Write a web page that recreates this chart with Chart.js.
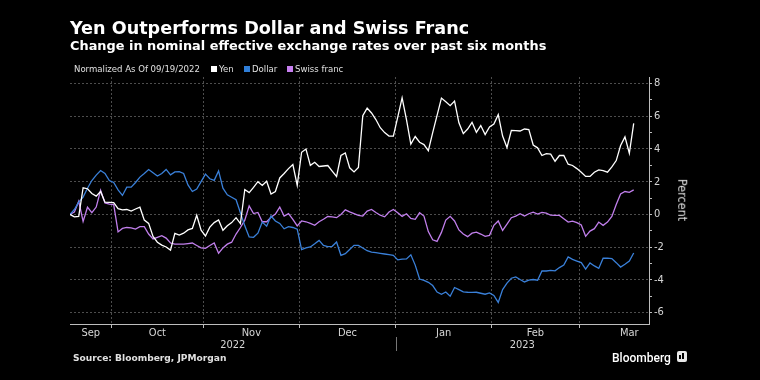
<!DOCTYPE html>
<html>
<head>
<meta charset="utf-8">
<script src="https://cdn.jsdelivr.net/npm/chart.js@4.4.1/dist/chart.umd.min.js"></script>
<style>
  html, body { margin: 0; padding: 0; background: #000; }
  #wrap { position: relative; width: 760px; height: 380px; background: #000; overflow: hidden;
          font-family: "DejaVu Sans", sans-serif; color: #fff; }
  #chart { position: absolute; left: 0; top: 0; }
  .abs { position: absolute; white-space: nowrap; line-height: 1; }
  .title { left: 70px; top: 20px; font-size: 17.6px; font-weight: bold; }
  .subtitle { left: 70px; top: 40px; font-size: 12.9px; font-weight: bold; }
  .leg { top: 63.5px; font-family: "DejaVu Sans Condensed", "Liberation Sans Narrow", "DejaVu Sans", sans-serif;
         font-size: 9.5px; color: #e0e0e0; }
  .sw { position: absolute; top: 66px; width: 6px; height: 6px; }
  .percent { left: 682px; top: 200px; transform: translate(-50%, -50%) rotate(90deg);
             font-family: "DejaVu Sans Condensed", "Liberation Sans Narrow", "DejaVu Sans", sans-serif;
             font-size: 12.5px; color: #e0e0e0; }
  .source { left: 73px; top: 354px; font-size: 9.1px; font-weight: bold; color: #e0e0e0; }
  .logo { left: 612px; top: 351.5px; font-family: Roboto, "DejaVu Sans", sans-serif; font-size: 12px; font-weight: 500; }
  .icon { position: absolute; left: 677px; top: 351px; width: 10px; height: 11px; background: #e8e8e8; border-radius: 2px; }
  .icon i { position: absolute; bottom: 3px; width: 2px; background: #000; }
</style>
</head>
<body>
<div id="wrap">
  <canvas id="chart" width="760" height="380"></canvas>
  <div class="abs title">Yen Outperforms Dollar and Swiss Franc</div>
  <div class="abs subtitle">Change in nominal effective exchange rates over past six months</div>
  <div class="abs leg" style="left:74px">Normalized As Of 09/19/2022</div>
  <span class="sw" style="left:211px;background:#ffffff"></span>
  <div class="abs leg" style="left:219px">Yen</div>
  <span class="sw" style="left:244px;background:#2f7ed8"></span>
  <div class="abs leg" style="left:252px">Dollar</div>
  <span class="sw" style="left:287px;background:#c77ff0"></span>
  <div class="abs leg" style="left:295px">Swiss franc</div>
  <div class="abs percent">Percent</div>
  <div class="abs source">Source: Bloomberg, JPMorgan</div>
  <div class="abs logo">Bloomberg</div>
  <span class="icon"><i style="left:2px;height:4px"></i><i style="left:5px;height:6px"></i></span>
</div>
<script>
// trading days since 09/19/2022 (x = day number)
const yen = [
  0.0, -0.15, -0.12, 1.63, 1.57, 1.28, 1.12, 1.4, 0.75, 0.74,
  0.72, 0.35, 0.28, 0.3, 0.2, 0.33, 0.44, -0.35, -0.55, -1.35,
  -1.7, -1.88, -1.99, -2.18, -1.16, -1.26, -1.15, -0.95, -0.86, -0.05,
  -0.96, -1.32, -0.78, -0.5, -0.34, -0.97, -0.7, -0.5, -0.2, -0.56,
  1.52, 1.33, 1.65, 2.0, 1.77, 2.03, 1.25, 1.4, 2.23, 2.5,
  2.8, 3.05, 1.77, 3.8, 4.0, 3.0, 3.19, 2.93, 2.96, 2.99,
  2.65, 2.32, 3.6, 3.76, 2.85, 2.6, 2.87, 6.04, 6.5, 6.2,
  5.8, 5.3, 5.0, 4.79, 4.79, 5.95, 7.13, 5.8, 4.3, 4.76,
  4.41, 4.27, 3.9, 5.0, 6.05, 7.11, 6.88, 6.65, 6.93, 5.6,
  4.94, 5.22, 5.63, 5.02, 5.43, 4.88, 5.35, 5.53, 6.1, 4.79,
  4.09, 5.14, 5.12, 5.1, 5.22, 5.19, 4.24, 4.07, 3.6, 3.72,
  3.68, 3.25, 3.6, 3.6, 3.07, 2.99, 2.8, 2.58, 2.32, 2.32,
  2.58, 2.72, 2.68, 2.58, 2.9, 3.29, 4.21, 4.74, 3.74, 5.57
];
const dollar = [
  0.0, 0.3, 0.75, 1.06, 1.6, 2.07, 2.4, 2.68, 2.5, 2.07,
  1.95, 1.5, 1.16, 1.67, 1.67, 1.95, 2.28, 2.5, 2.74, 2.55,
  2.35, 2.5, 2.75, 2.42, 2.6, 2.62, 2.5, 1.8, 1.4, 1.55,
  2.0, 2.46, 2.18, 2.08, 2.66, 1.6, 1.2, 1.05, 0.9, 0.1,
  -0.7, -1.38, -1.4, -1.15, -0.47, -0.72, -0.1, -0.4, -0.55, -0.88,
  -0.75, -0.8, -0.9, -2.15, -2.05, -1.99, -1.8, -1.59, -1.9, -1.97,
  -1.95, -1.69, -2.5, -2.4, -2.15, -1.89, -1.89, -2.05, -2.22, -2.3,
  -2.34, -2.38, -2.42, -2.46, -2.5, -2.78, -2.74, -2.72, -2.47, -3.1,
  -3.95, -4.03, -4.15, -4.35, -4.75, -4.88, -4.74, -5.0, -4.47, -4.6,
  -4.74, -4.76, -4.77, -4.76, -4.82, -4.88, -4.8, -4.95, -5.38, -4.6,
  -4.2, -3.9, -3.82, -3.98, -4.13, -4.02, -3.98, -4.02, -3.46, -3.46,
  -3.42, -3.45, -3.25, -3.1, -2.6, -2.75, -2.85, -2.95, -3.35, -2.97,
  -3.15, -3.3, -2.68, -2.67, -2.7, -2.95, -3.22, -3.05, -2.85, -2.36
];
const swissFranc = [
  0.0, 0.14, 0.8, -0.43, 0.44, 0.1, 0.45, 1.47, 0.7, 0.63,
  0.6, -1.07, -0.86, -0.8, -0.82, -0.9, -0.75, -0.75, -1.2, -1.5,
  -1.4, -1.3, -1.45, -1.75, -1.82, -1.82, -1.82, -1.78, -1.75, -1.9,
  -2.05, -2.07, -1.9, -1.75, -2.37, -2.05, -1.82, -1.7, -1.2, -0.8,
  -0.35, 0.52, 0.05, 0.12, -0.45, -0.45, -0.18, 0.02, 0.45, -0.1,
  0.05, -0.3, -0.7, -0.4, -0.45, -0.55, -0.67, -0.45, -0.3, -0.13,
  -0.15, -0.2, 0.0, 0.28, 0.15, 0.05, -0.06, -0.1, 0.2, 0.3,
  0.12, -0.05, -0.15, 0.15, 0.3, 0.1, -0.12, 0.04, -0.25, -0.3,
  0.1, -0.1, -1.05, -1.55, -1.65, -1.1, -0.35, -0.12, -0.4, -0.95,
  -1.2, -1.36, -1.15, -1.08, -1.2, -1.34, -1.28, -0.67, -0.4, -0.98,
  -0.6, -0.2, -0.1, 0.04, -0.1, 0.04, 0.14, 0.02, 0.12, 0.08,
  -0.05, -0.06, -0.06, -0.26, -0.47, -0.41, -0.5, -0.65, -1.34, -1.02,
  -0.87, -0.47, -0.67, -0.47, -0.12, 0.6, 1.25, 1.4, 1.35, 1.5
];

// axis labels
const monthLabels = ['Sep', 'Oct', 'Nov', 'Dec', 'Jan', 'Feb', 'Mar'];
const monthStarts = [-12.5, 9.5, 30.5, 52.5, 74.5, 96.5, 116.5, 139.5]; // trading day where each month begins
const yearLabels = ['2022', '2023'];
const yearStarts = [0, 74.5];
const yTicks = [-6, -5, -4, -3, -2, -1, 0, 1, 2, 3, 4, 5, 6, 7, 8];
const xMax = 132.5;
const yMin = -6.7, yMax = 8.4;

const tickFont = '"DejaVu Sans Condensed", "Liberation Sans Narrow", "DejaVu Sans", sans-serif';
const gridColor = '#4d4d4d';
const axisColor = '#bdbdbd';

// x ticks: month boundaries (grid only), month names and years (text only)
const boundaries = monthStarts.slice(1, 7);
let xTickList = [];
boundaries.forEach(v => xTickList.push({ value: v, label: '' }));
monthLabels.forEach((m, i) => {
  const from = Math.max(monthStarts[i], 0);
  xTickList.push({ value: (from + monthStarts[i + 1]) / 2, label: m });
});
yearLabels.forEach((y, i) => {
  const to = i + 1 < yearStarts.length ? yearStarts[i + 1] : xMax;
  xTickList.push({ value: (yearStarts[i] + to) / 2, label: ['', y] });
});
xTickList.sort((a, b) => a.value - b.value);

const isBoundary = v => boundaries.indexOf(v) !== -1;

function toPoints(arr) {
  return arr.map((v, i) => ({ x: i, y: v }));
}

// short line between the two year labels
const yearDivider = {
  id: 'yearDivider',
  afterDraw(chart) {
    const ctx = chart.ctx;
    const x = Math.round(chart.scales.x.getPixelForValue(yearStarts[1])) + 0.5;
    ctx.save();
    ctx.strokeStyle = '#777';
    ctx.lineWidth = 1;
    ctx.beginPath();
    ctx.moveTo(x, 337);
    ctx.lineTo(x, 351);
    ctx.stroke();
    ctx.restore();
  }
};

const ctx = document.getElementById('chart').getContext('2d');
const chart = new Chart(ctx, {
  type: 'line',
  data: {
    datasets: [
      { label: 'Yen', data: toPoints(yen), borderColor: '#ffffff', borderWidth: 1.3 },
      { label: 'Dollar', data: toPoints(dollar), borderColor: '#3a80d9', borderWidth: 1.3 },
      { label: 'Swiss franc', data: toPoints(swissFranc), borderColor: '#c17fec', borderWidth: 1.3 }
    ]
  },
  options: {
    responsive: false,
    animation: false,
    layout: { padding: { left: 70, top: 77, right: 0, bottom: 0 } },
    elements: { point: { radius: 0 }, line: { tension: 0 } },
    plugins: { legend: { display: false }, tooltip: { enabled: false } },
    scales: {
      x: {
        type: 'linear',
        min: 0,
        max: xMax,
        afterFit: s => { s.height = 56; },
        afterBuildTicks: s => { s.ticks = xTickList.map(t => ({ value: t.value })); },
        ticks: {
          autoSkip: false,
          maxRotation: 0,
          minRotation: 0,
          color: '#d6d6d6',
          padding: -1,
          font: { family: tickFont, size: 11, lineHeight: 1.12 },
          callback: (v, i) => xTickList[i].label
        },
        grid: {
          color: c => (c.tick && isBoundary(c.tick.value)) ? gridColor : 'rgba(0,0,0,0)',
          tickColor: c => (c.tick && isBoundary(c.tick.value)) ? axisColor : 'rgba(0,0,0,0)',
          tickLength: 4,
          lineWidth: 1
        },
        border: { color: axisColor, width: 1, dash: [2, 2] }
      },
      y: {
        position: 'right',
        min: yMin,
        max: yMax,
        afterFit: s => { s.width = 111; },
        afterBuildTicks: s => { s.ticks = yTicks.map(v => ({ value: v })); },
        ticks: {
          color: '#d6d6d6',
          padding: 2,
          font: { family: tickFont, size: 11 },
          callback: v => (v % 2 === 0 ? String(v) : '')
        },
        grid: {
          color: c => (c.tick && c.tick.value % 2 === 0) ? gridColor : 'rgba(0,0,0,0)',
          tickColor: axisColor,
          tickLength: 3,
          lineWidth: 1
        },
        border: { color: axisColor, width: 1, dash: [2, 2] }
      }
    }
  },
  plugins: [yearDivider]
});
</script>
</body>
</html>
